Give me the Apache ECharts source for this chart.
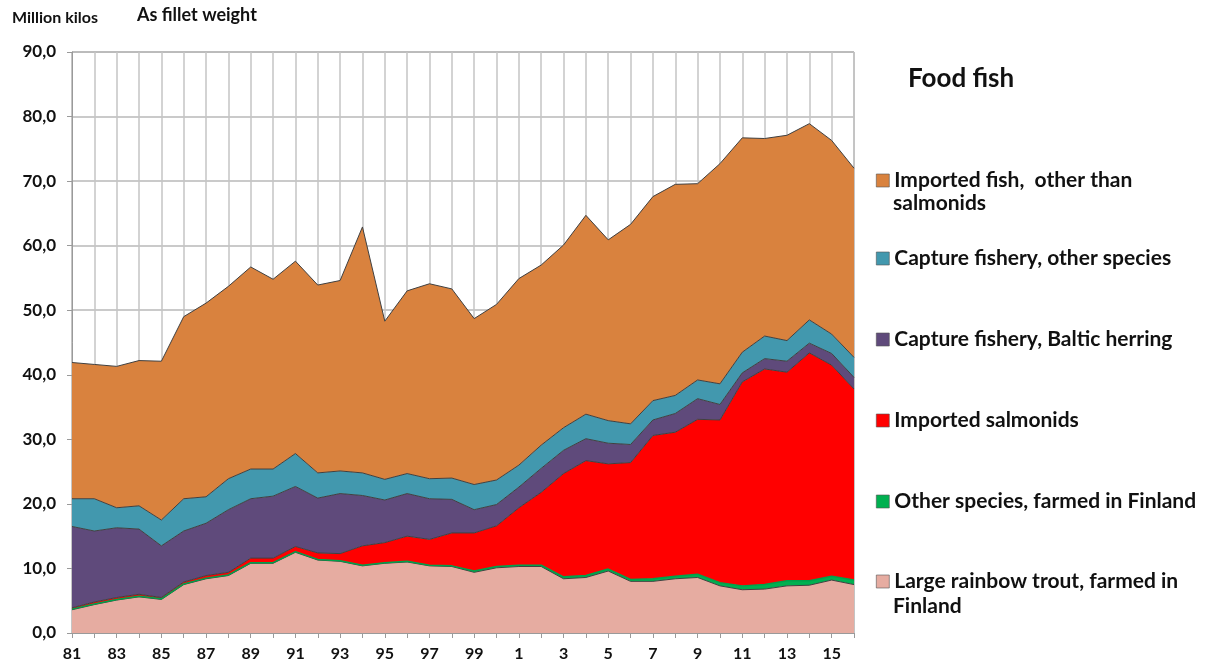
<!DOCTYPE html>
<html>
<head>
<meta charset="utf-8">
<title>Food fish</title>
<script src="https://cdn.jsdelivr.net/npm/echarts@6/dist/echarts.min.js"></script>
<style>
  html, body { margin: 0; padding: 0; background: #fff; }
  #chart { width: 1206px; height: 667px; }
</style>
</head>
<body>
<div id="chart"></div>
<script>
// years 1981..2016, shown as two digits like in the source
var years = ['81','82','83','84','85','86','87','88','89','90','91','92','93','94','95','96','97','98','99',
  '0','1','2','3','4','5','6','7','8','9','10','11','12','13','14','15','16'];

// million kilos, fillet weight
var rainbowTrout = [3.6, 4.4, 5.1, 5.6, 5.2, 7.5, 8.4, 8.9, 10.8, 10.8, 12.5, 11.3, 11.1, 10.4, 10.8, 11.0, 10.4, 10.3,
  9.4, 10.1, 10.3, 10.3, 8.4, 8.6, 9.6, 8.0, 8.0, 8.4, 8.6, 7.3, 6.7, 6.8, 7.3, 7.4, 8.2, 7.5];
var otherFarmed = [0.1, 0.1, 0.1, 0.1, 0.1, 0.1, 0.1, 0.1, 0.1, 0.1, 0.1, 0.1, 0.1, 0.1, 0.1, 0.1, 0.1, 0.1,
  0.2, 0.2, 0.2, 0.2, 0.3, 0.3, 0.3, 0.3, 0.4, 0.4, 0.5, 0.5, 0.6, 0.7, 0.8, 0.7, 0.6, 0.7];
var importedSalmonids = [0.2, 0.3, 0.3, 0.3, 0.2, 0.3, 0.4, 0.4, 0.7, 0.7, 0.8, 1.0, 1.1, 3.0, 3.1, 3.9, 4.0, 5.1,
  5.9, 6.3, 8.9, 11.3, 16.0, 17.8, 16.3, 18.1, 22.2, 22.3, 24.0, 25.2, 31.6, 33.4, 32.3, 35.3, 32.7, 29.6];
var balticHerring = [12.6, 11.0, 10.8, 10.1, 8.0, 7.9, 8.1, 9.7, 9.2, 9.6, 9.3, 8.5, 9.3, 7.8, 6.6, 6.6, 6.3, 5.2,
  3.6, 3.3, 3.2, 3.7, 3.6, 3.4, 3.2, 2.8, 2.4, 2.9, 3.2, 2.4, 1.4, 1.6, 1.7, 1.5, 1.8, 1.8];
var captureOther = [4.3, 5.0, 3.1, 3.6, 4.0, 5.0, 4.1, 4.8, 4.6, 4.2, 5.1, 3.9, 3.5, 3.5, 3.2, 3.1, 3.1, 3.3,
  3.9, 3.8, 3.4, 3.6, 3.5, 3.8, 3.5, 3.2, 3.0, 2.8, 2.9, 3.2, 3.2, 3.5, 3.2, 3.6, 3.0, 3.1];
var importedOther = [21.1, 20.8, 21.9, 22.5, 24.6, 28.2, 30.0, 29.8, 31.3, 29.4, 29.8, 29.1, 29.5, 38.1, 24.5, 28.3, 30.2, 29.3,
  25.7, 27.2, 28.9, 27.9, 28.3, 30.8, 28.0, 30.9, 31.6, 32.7, 30.4, 34.1, 33.2, 30.6, 31.8, 30.4, 30.0, 29.3];

var yTicks = [0, 10, 20, 30, 40, 50, 60, 70, 80, 90];

var seriesNames = [
  'Large rainbow trout, farmed in Finland',
  'Other species, farmed in Finland',
  'Imported salmonids',
  'Capture fishery, Baltic herring',
  'Capture fishery, other species',
  'Imported fish,  other than salmonids'
];
var seriesData = [rainbowTrout, otherFarmed, importedSalmonids, balticHerring, captureOther, importedOther];
var colors = ['#e6aca1', '#00b050', '#ff0000', '#5f4a7b', '#4298ae', '#d9823e'];

var font = 'Lato, "Open Sans", sans-serif';

// legend text as it wraps in the original
var legendFirstLine = {
  'Imported fish,  other than salmonids': 'Imported fish,  other than',
  'Large rainbow trout, farmed in Finland': 'Large rainbow trout, farmed in'
};
// legend rows, top to bottom
var legendRows = [
  { name: seriesNames[5], top: 165 },
  { name: seriesNames[4], top: 243 },
  { name: seriesNames[3], top: 324 },
  { name: seriesNames[2], top: 405 },
  { name: seriesNames[1], top: 486 },
  { name: seriesNames[0], top: 566 }
];

var chart = echarts.init(document.getElementById('chart'), null, { renderer: 'canvas' });

var series = [];
for (var i = 0; i < seriesNames.length; i++) {
  series.push({
    name: seriesNames[i],
    type: 'line',
    stack: 'total',
    symbol: 'none',
    data: seriesData[i],
    itemStyle: { color: colors[i] },
    lineStyle: { color: i === 1 ? '#00a04a' : '#404040', width: i === 1 ? 1.5 : 1 },
    areaStyle: { color: colors[i], opacity: 1 }
  });
}

var legends = legendRows.map(function (row) {
  return {
    data: [row.name],
    left: 871,
    top: row.top,
    itemWidth: 13,
    itemHeight: 13,
    itemGap: 8,
    icon: 'rect',
    selectedMode: false,
    formatter: function (name) {
      return legendFirstLine[name] || name;
    },
    itemStyle: { borderColor: '#555', borderWidth: 0.6 },
    textStyle: { fontFamily: font, fontSize: 21, fontWeight: 'bold', color: '#111' }
  };
});

function label(text, left, top, size) {
  return {
    type: 'text', left: left, top: top,
    style: { text: text, fontFamily: font, fontSize: size, fontWeight: 700, fill: '#111' }
  };
}

chart.setOption({
  animation: false,
  backgroundColor: '#fff',
  legend: legends,
  graphic: [
    label('Million kilos', 12, 10, 16),
    label('As fillet weight', 137, 6, 18),
    label('Food fish', 908, 66, 26),
    // second lines of the wrapped legend labels
    label('salmonids', 893, 193, 21),
    label('Finland', 893, 596, 21)
  ],
  grid: {
    left: 72,
    right: 352,
    top: 52,
    bottom: 34,
    show: true,
    borderColor: '#8a8a8a',
    borderWidth: 1
  },
  xAxis: {
    type: 'category',
    data: years,
    boundaryGap: false,
    axisLine: { lineStyle: { color: '#9a9a9a' } },
    axisTick: { show: true, interval: 0, length: 5, lineStyle: { color: '#9a9a9a' } },
    axisLabel: {
      interval: 1,
      margin: 13,
      fontFamily: font,
      fontSize: 16,
      fontWeight: 'bold',
      color: '#111'
    },
    splitLine: { show: true, interval: 0, lineStyle: { color: '#c4c4c4', width: 1.5 } }
  },
  yAxis: {
    type: 'value',
    min: yTicks[0],
    max: yTicks[yTicks.length - 1],
    interval: 10,
    axisLine: { show: true, lineStyle: { color: '#9a9a9a' } },
    axisTick: { show: true, length: 5, lineStyle: { color: '#9a9a9a' } },
    axisLabel: {
      margin: 16,
      fontFamily: font,
      fontSize: 17,
      fontWeight: 'bold',
      color: '#111',
      formatter: function (v) { return v.toFixed(1).replace('.', ','); }
    },
    splitLine: { show: true, lineStyle: { color: '#b8b8b8', width: 1.5 } }
  },
  series: series
});
</script>
</body>
</html>
